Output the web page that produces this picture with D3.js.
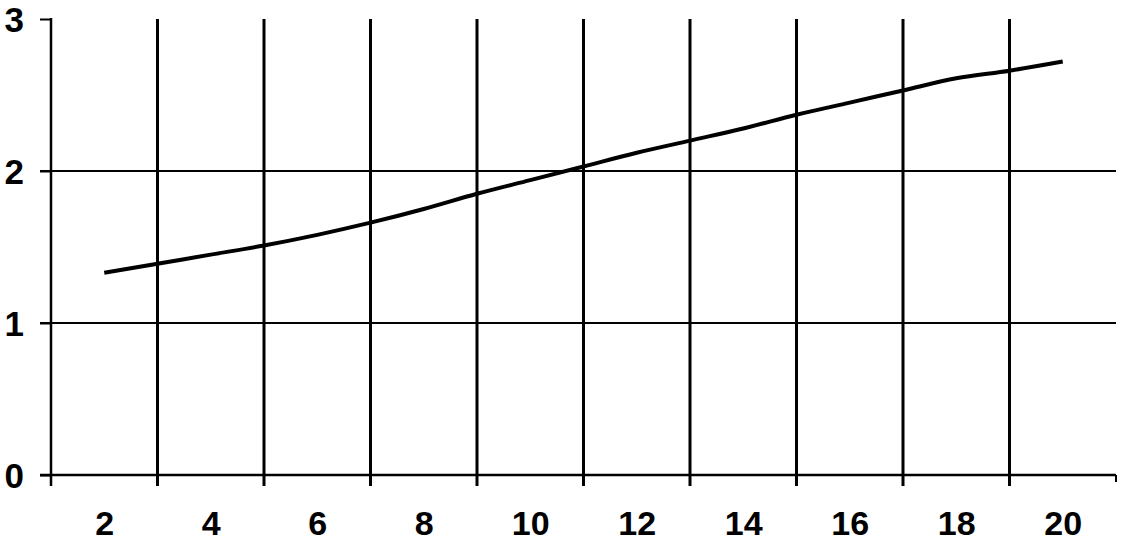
<!DOCTYPE html>
<html>
<head>
<meta charset="utf-8">
<script src="https://cdn.jsdelivr.net/npm/d3@7"></script>
<style>
  body { margin: 0; background: #fff; }
  text { font-family: "Liberation Sans", Arial, sans-serif; font-weight: bold; fill: #000; }
</style>
</head>
<body>
<svg id="chart"></svg>
<script>
// data
const xValues = [2, 3, 4, 5, 6, 7, 8, 9, 10, 11, 12, 13, 14, 15, 16, 17, 18, 19, 20];
const yValues = [1.33, 1.39, 1.45, 1.51, 1.58, 1.66, 1.75, 1.85, 1.94, 2.03, 2.12, 2.2, 2.28, 2.37, 2.45, 2.53, 2.61, 2.66, 2.72];
const xTickLabels = [2, 4, 6, 8, 10, 12, 14, 16, 18, 20];
const xGridValues = [3, 5, 7, 9, 11, 13, 15, 17, 19];
const yTickValues = [0, 1, 2, 3];

const width = 1123;
const height = 544;

const svg = d3.select("#chart")
  .attr("width", width)
  .attr("height", height);

const xScale = d3.scaleLinear().domain([1, 21]).range([51, 1116]);
const yScale = d3.scaleLinear().domain([0, 3]).range([475, 19]);

// horizontal grid lines
svg.append("g")
  .selectAll("line")
  .data(yTickValues.filter(d => d > 0 && d < 3))
  .enter()
  .append("line")
  .attr("x1", 40)
  .attr("x2", xScale(21))
  .attr("y1", d => yScale(d))
  .attr("y2", d => yScale(d))
  .attr("stroke", "#000")
  .attr("stroke-width", 2);

// vertical grid lines, extending below the axis as ticks
svg.append("g")
  .selectAll("line")
  .data(xGridValues)
  .enter()
  .append("line")
  .attr("x1", d => xScale(d))
  .attr("x2", d => xScale(d))
  .attr("y1", yScale(3))
  .attr("y2", yScale(0) + 11)
  .attr("stroke", "#000")
  .attr("stroke-width", 3);

// y axis
const yAxis = d3.axisLeft(yScale)
  .tickValues(yTickValues)
  .tickSize(11)
  .tickPadding(16)
  .tickFormat(d3.format("d"));

svg.append("g")
  .attr("id", "y-axis")
  .attr("transform", "translate(" + xScale(1) + ",0)")
  .call(yAxis)
  .call(g => g.select(".domain").remove())
  .call(g => g.selectAll("line").attr("stroke", "#000").attr("stroke-width", 2))
  .call(g => g.selectAll("text").attr("dy", "0.36em").style("font-size", "35px"));

svg.append("line")
  .attr("x1", xScale(1))
  .attr("x2", xScale(1))
  .attr("y1", yScale(3) - 1)
  .attr("y2", yScale(0) + 11)
  .attr("stroke", "#000")
  .attr("stroke-width", 2.5);

// x axis
const xAxis = d3.axisBottom(xScale)
  .tickValues(xTickLabels)
  .tickSize(0)
  .tickPadding(36)
  .tickFormat(d3.format("d"));

svg.append("g")
  .attr("id", "x-axis")
  .attr("transform", "translate(0," + yScale(0) + ")")
  .call(xAxis)
  .call(g => g.select(".domain").remove())
  .call(g => g.selectAll("text").style("font-size", "34px"));

svg.append("line")
  .attr("x1", 40)
  .attr("x2", xScale(21))
  .attr("y1", yScale(0))
  .attr("y2", yScale(0))
  .attr("stroke", "#000")
  .attr("stroke-width", 2.5);

svg.append("line")
  .attr("x1", xScale(21))
  .attr("x2", xScale(21))
  .attr("y1", yScale(0))
  .attr("y2", yScale(0) + 7)
  .attr("stroke", "#000")
  .attr("stroke-width", 2);

// the series line
const line = d3.line()
  .x((d, i) => xScale(xValues[i]))
  .y(d => yScale(d))
  .curve(d3.curveMonotoneX);

svg.append("path")
  .datum(yValues)
  .attr("d", line)
  .attr("fill", "none")
  .attr("stroke", "#000")
  .attr("stroke-width", 4)
  .attr("stroke-linejoin", "round");
</script>
</body>
</html>
